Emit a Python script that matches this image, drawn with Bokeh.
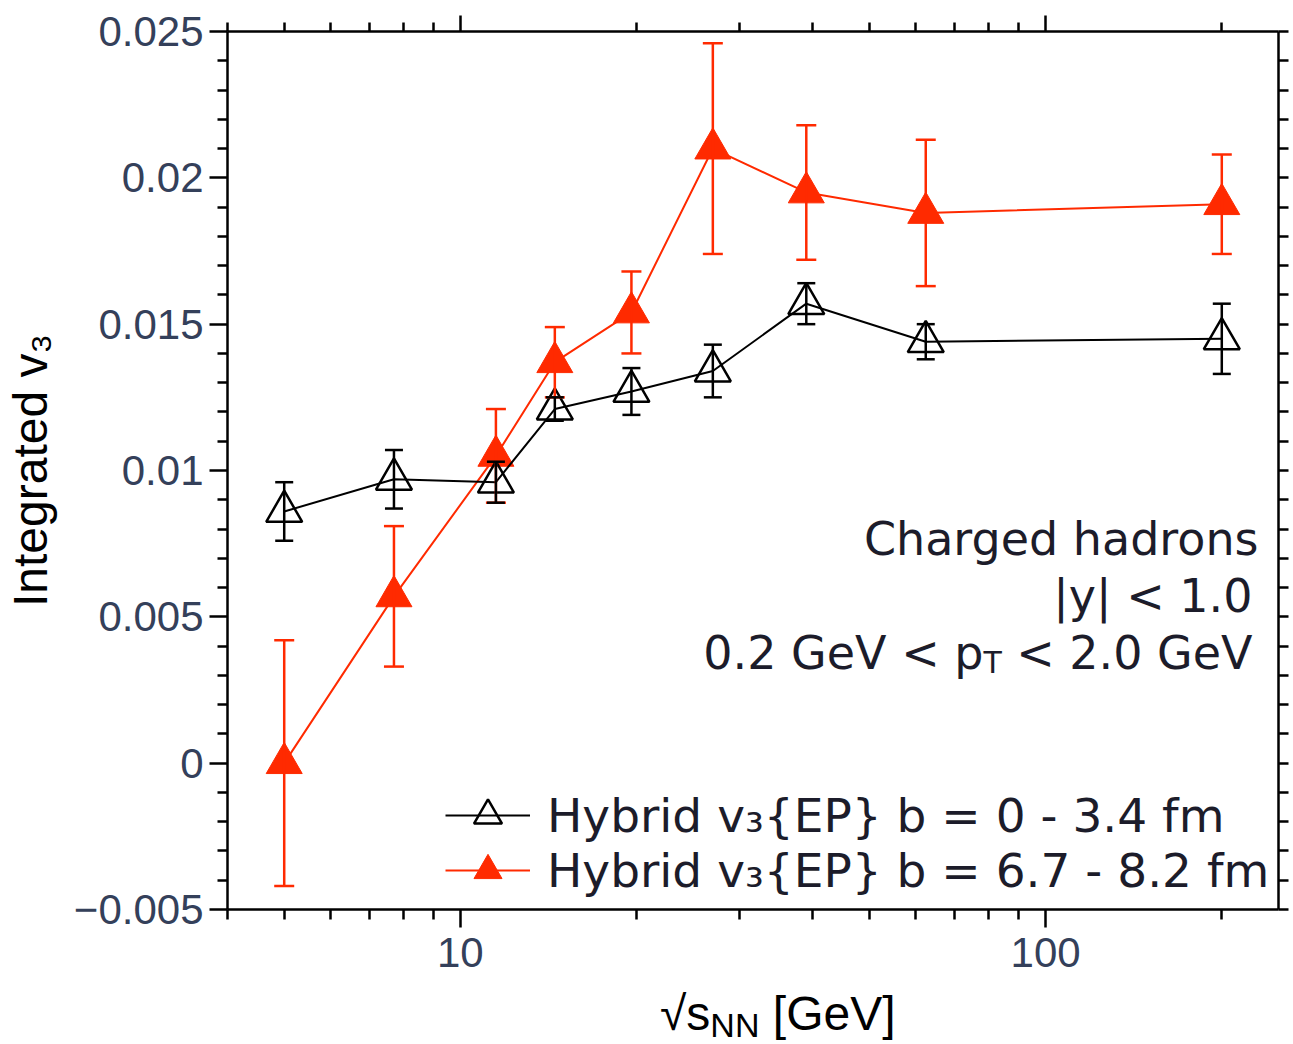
from bokeh.plotting import figure
from bokeh.layouts import column
from bokeh.models import (ColumnDataSource, Whisker, TeeHead, LogAxis, LinearAxis,
                          FixedTicker, Legend, LegendItem, Label, Range1d, Div)
from bokeh.embed import file_html
from bokeh.resources import INLINE

# Collision energies sqrt(s_NN) [GeV]
energies = [5.0, 7.7, 11.5, 14.5, 19.6, 27.0, 39.0, 62.4, 200.0]

# Integrated v3 of charged hadrons, central events (b = 0 - 3.4 fm)
central_v3 = [0.0086, 0.0097, 0.0096, 0.0121, 0.0127, 0.0134, 0.0157, 0.0144, 0.0145]
central_err = [0.0010, 0.0010, 0.0007, 0.0004, 0.0008, 0.0009, 0.0007, 0.0006, 0.0012]

# Integrated v3 of charged hadrons, mid-central events (b = 6.7 - 8.2 fm)
midcentral_v3 = [0.0000, 0.0057, 0.0105, 0.0137, 0.0154, 0.0210, 0.0195, 0.0188, 0.0191]
midcentral_err = [0.0042, 0.0024, 0.0016, 0.0012, 0.0014, 0.0036, 0.0023, 0.0025, 0.0017]

legend_labels = ["Hybrid v\u2083{EP} b = 0 - 3.4 fm", "Hybrid v\u2083{EP} b = 6.7 - 8.2 fm"]

x_ticks = [10, 100]
x_tick_labels = ["10", "100"]
x_minor_ticks = [4, 5, 6, 7, 8, 9, 20, 30, 40, 50, 60, 70, 80, 90, 200]
y_ticks = [-0.005, 0.0, 0.005, 0.01, 0.015, 0.02, 0.025]
y_tick_labels = ["\u22120.005", "0", "0.005", "0.01", "0.015", "0.02", "0.025"]
y_minor_ticks = [-0.004, -0.003, -0.002, -0.001, 0.001, 0.002, 0.003, 0.004,
                 0.006, 0.007, 0.008, 0.009, 0.011, 0.012, 0.013, 0.014,
                 0.016, 0.017, 0.018, 0.019, 0.021, 0.022, 0.023, 0.024]

RED = "#ff2a00"
BLACK = "#000000"
TICK_COLOR = "#34405a"
TEXT_COLOR = "#1c1c2a"
SANS = "Liberation Sans"
VERDANA_LIKE = "DejaVu Sans"
NBSP = "\u00a0"

# frame placement on the canvas (pixels)
FRAME_LEFT, FRAME_TOP, FRAME_RIGHT_PAD = 227, 31, 15
W, PLOT_H, TITLE_H = 1293, 988, 56
FRAME_BOTTOM = 909


def sx(canvas_x):
    return canvas_x - FRAME_LEFT


def sy(canvas_y):
    return FRAME_BOTTOM - canvas_y


def make_source(x, v, e):
    return ColumnDataSource(dict(
        x=x, y=v,
        upper=[a + b for a, b in zip(v, e)],
        lower=[a - b for a, b in zip(v, e)],
    ))


src_c = make_source(energies, central_v3, central_err)
src_m = make_source(energies, midcentral_v3, midcentral_err)

p = figure(width=W, height=PLOT_H, x_axis_type="log",
           x_range=Range1d(4, 250), y_range=Range1d(-0.005, 0.025),
           output_backend="svg", toolbar_location=None,
           min_border_left=FRAME_LEFT, min_border_right=FRAME_RIGHT_PAD,
           min_border_top=FRAME_TOP, min_border_bottom=PLOT_H - FRAME_BOTTOM)
p.xgrid.visible = False
p.ygrid.visible = False
p.outline_line_color = None
p.background_fill_color = "white"
p.border_fill_color = "white"


def style_axis(ax, ticks, minor, labels=None, major_out=18, minor_out=10):
    ax.ticker = FixedTicker(ticks=ticks, minor_ticks=minor)
    ax.axis_line_color = "black"
    ax.axis_line_width = 2.5
    ax.major_tick_line_color = "black"
    ax.minor_tick_line_color = "black"
    ax.major_tick_line_width = 2.5
    ax.minor_tick_line_width = 2.5
    ax.major_tick_in = 0
    ax.minor_tick_in = 0
    ax.major_tick_out = major_out
    ax.minor_tick_out = minor_out
    if labels is None:
        ax.major_label_text_alpha = 0
        ax.major_label_text_font_size = "1px"
    else:
        ax.major_label_overrides = dict(zip(ticks, labels))
        ax.major_label_text_font = SANS
        ax.major_label_text_font_size = "42px"
        ax.major_label_text_color = TICK_COLOR


xb = p.xaxis[0]
style_axis(xb, x_ticks, x_minor_ticks, x_tick_labels)
xb.major_label_standoff = 10

yl = p.yaxis[0]
style_axis(yl, y_ticks, y_minor_ticks, y_tick_labels)
yl.major_label_standoff = 6
yl.axis_label = "Integrated v\u2083"
yl.axis_label_text_font = SANS
yl.axis_label_text_font_size = "48px"
yl.axis_label_text_font_style = "normal"
yl.axis_label_text_color = "black"
yl.axis_label_standoff = 14

xt = LogAxis()
style_axis(xt, x_ticks, x_minor_ticks, None, major_out=16, minor_out=9)
p.add_layout(xt, "above")

yr = LinearAxis()
style_axis(yr, y_ticks, y_minor_ticks, None, major_out=10, minor_out=10)
p.add_layout(yr, "right")

# mid-central series
m_line = p.line("x", "y", source=src_m, line_color=RED, line_width=2)
p.add_layout(Whisker(source=src_m, base="x", upper="upper", lower="lower",
                     line_color=RED, line_width=2.5, level="glyph",
                     upper_head=TeeHead(size=20, line_color=RED, line_width=2.5),
                     lower_head=TeeHead(size=20, line_color=RED, line_width=2.5)))
m_pts = p.scatter("x", "y", source=src_m, marker="triangle", size=36,
                  fill_color=RED, line_color=RED, line_width=1)

# central series
c_line = p.line("x", "y", source=src_c, line_color=BLACK, line_width=2)
p.add_layout(Whisker(source=src_c, base="x", upper="upper", lower="lower",
                     line_color=BLACK, line_width=2.5, level="glyph",
                     upper_head=TeeHead(size=18, line_color=BLACK, line_width=2.5),
                     lower_head=TeeHead(size=18, line_color=BLACK, line_width=2.5)))
c_pts = p.scatter("x", "y", source=src_c, marker="triangle", size=36,
                  fill_alpha=0, line_color=BLACK, line_width=2.5)


def add_legend(label, renderers, row_center):
    # one legend per row, so rows can sit closer than the glyph box height
    lg = Legend(items=[LegendItem(label=label, renderers=renderers)],
                location=(sx(445), sy(row_center + 35)),
                label_text_font=VERDANA_LIKE, label_text_font_size="47px",
                label_text_color=TEXT_COLOR,
                glyph_width=85, glyph_height=70, label_height=70,
                spacing=0, padding=0, margin=0, label_standoff=17,
                border_line_color=None, background_fill_alpha=0)
    p.add_layout(lg)


add_legend(legend_labels[0], [c_line, c_pts], 815)
add_legend(legend_labels[1], [m_line, m_pts], 870)


def add_text(text, cx, cy, size="46px", align="left"):
    p.add_layout(Label(x=sx(cx), y=sy(cy), x_units="screen", y_units="screen",
                       text=text, text_align=align, text_baseline="alphabetic",
                       text_font=VERDANA_LIKE, text_font_size=size, text_color=TEXT_COLOR))


# cut description
add_text("Charged hadrons", 1258, 538, align="right")
add_text("|y| < 1.0", 1252, 595, align="right")
add_text(NBSP + "< 2.0 GeV", 1252, 652, align="right")
add_text("T", 983, 662, size="30px")
add_text("0.2 GeV < p", 983, 652, align="right")

# x axis title: sqrt(s_NN) [GeV]
x_title_html = ('<div style="margin-left:660px; margin-top:4px; white-space:nowrap; color:black; '
                'font-family:\'Liberation Sans\'; font-size:48px; line-height:44px;">'
                '\u221as<span style="font-size:34px; line-height:34px; vertical-align:-7px;">NN</span>'
                ' [GeV]</div>')
x_title = Div(text=x_title_html, width=W, height=TITLE_H, margin=0)

layout = column(p, x_title, spacing=0)
open("out.html", "w").write(file_html(layout, INLINE))
